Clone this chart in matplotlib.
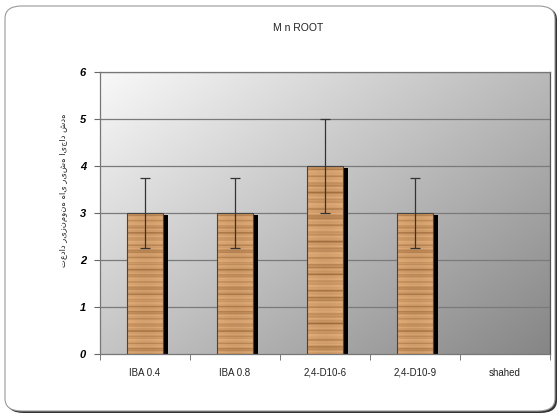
import numpy as np
import matplotlib
matplotlib.use("Agg")
import matplotlib.pyplot as plt
from matplotlib.patches import FancyBboxPatch, Rectangle

categories = ["IBA 0.4", "IBA 0.8", "2,4-D10-6", "2,4-D10-9", "shahed"]
values = [3, 3, 4, 3, 0]
errors = [0.75, 0.75, 1.0, 0.75, 0]
yticks = [0, 1, 2, 3, 4, 5, 6]
title = "M n ROOT"
ylabel = "تعداد ریزنمونه های ریشه ایجاد شده"

W, H = 560, 416
fig = plt.figure(figsize=(W / 100, H / 100), dpi=100)
fig.patch.set_facecolor("white")

# outer rounded frame with shadow
shadow = FancyBboxPatch((7 / W, 3 / H), 550 / W, 406 / H,
                        boxstyle="round,pad=0,rounding_size=0.03",
                        transform=fig.transFigure, facecolor="#333333",
                        edgecolor="none", zorder=0)
frame = FancyBboxPatch((5 / W, 5 / H), 550 / W, 405 / H,
                       boxstyle="round,pad=0,rounding_size=0.03",
                       transform=fig.transFigure, facecolor="white",
                       edgecolor="#9a9a9a", linewidth=0.8, zorder=0.1)
fig.patches.extend([shadow, frame])

ax = fig.add_axes([100 / W, (H - 354) / H, 450 / W, 282 / H])
ax.set_zorder(2)
x = np.arange(len(categories))
ax.set_xlim(-0.5, len(categories) - 0.5)
ax.set_ylim(0, 6)

# gradient background: light top-left, dark bottom-right
gx, gy = np.meshgrid(np.linspace(0, 1, 200), np.linspace(0, 1, 200))
g = 0.55 * gx + 0.45 * gy  # row 0 is top (origin upper)
vals = 0.975 - g * 0.45
ax.imshow(np.dstack([vals, vals, vals]), extent=[-0.5, len(categories) - 0.5, 0, 6],
          aspect="auto", origin="upper", zorder=0)

for t in yticks[1:]:
    ax.axhline(t, color="#7a7a7a", lw=0.9, zorder=1)

# wood texture (deterministic stripes)
ty = np.linspace(0, 1, 600)
s = (np.sin(ty * 2 * np.pi * 23) + 0.8 * np.sin(ty * 2 * np.pi * 57.3 + 1.3)
     + 0.6 * np.sin(ty * 2 * np.pi * 131.7 + 0.4) + 0.4 * np.sin(ty * 2 * np.pi * 7.1 + 2.0))
s = (s - s.min()) / (s.max() - s.min())
s = s ** 2.5
light = np.array([0.90, 0.69, 0.48])
dark = np.array([0.56, 0.35, 0.16])
tex = light[None, :] * (1 - s[:, None]) + dark[None, :] * s[:, None]
colvar = 1 - 0.05 * np.sin(np.linspace(0, np.pi, 20))
tex = tex[:, None, :] * colvar[None, :, None]

bw = 0.41
for xi, v, e in zip(x, values, errors):
    if v <= 0:
        continue
    ax.add_patch(Rectangle((xi - bw / 2 + 0.045, 0), bw, v - 0.04, facecolor="black",
                           edgecolor="none", zorder=2))
    rect = Rectangle((xi - bw / 2, 0), bw, v, facecolor="none", edgecolor="#444444",
                     lw=0.8, zorder=4)
    ax.add_patch(rect)
    im = ax.imshow(np.clip(tex, 0, 1), extent=[xi - bw / 2, xi + bw / 2, 0, v],
                   aspect="auto", origin="upper", zorder=3, interpolation="bilinear")
    im.set_clip_path(rect)
    ax.errorbar(xi, v, yerr=e, fmt="none", ecolor="#333333", elinewidth=0.9,
                capsize=3.5, capthick=0.9, zorder=5)

ax.set_xticks(x)
ax.set_xticklabels(categories, fontsize=7, color="#222222", fontfamily="Liberation Sans")
ax.set_xticks(np.arange(-0.5, len(categories)), minor=True)
ax.tick_params(axis="x", which="major", length=0, pad=10)
ax.tick_params(axis="x", which="minor", length=4, color="#666666", direction="out")
ax.set_yticks(yticks)
ax.set_yticklabels([str(t) for t in yticks], fontsize=8, fontweight="bold",
                   fontstyle="italic", fontfamily="Liberation Sans")
ax.tick_params(axis="y", length=4, color="#666666", direction="out", pad=6)

for sp in ["left", "bottom", "top"]:
    ax.spines[sp].set_color("#777777")
    ax.spines[sp].set_linewidth(0.9)
ax.spines["right"].set_color("#555555")
ax.spines["right"].set_linewidth(0.9)

fig.text(298 / W, 1 - 28 / H, title, ha="center", va="center", fontsize=7.5,
         fontfamily="Liberation Sans", color="#222222")
fig.text(64 / W, 1 - 190 / H, ylabel, ha="center", va="center", rotation=90,
         fontsize=6, fontfamily=["DejaVu Sans"], color="#222222")

fig.savefig("out.png", dpi=100)
